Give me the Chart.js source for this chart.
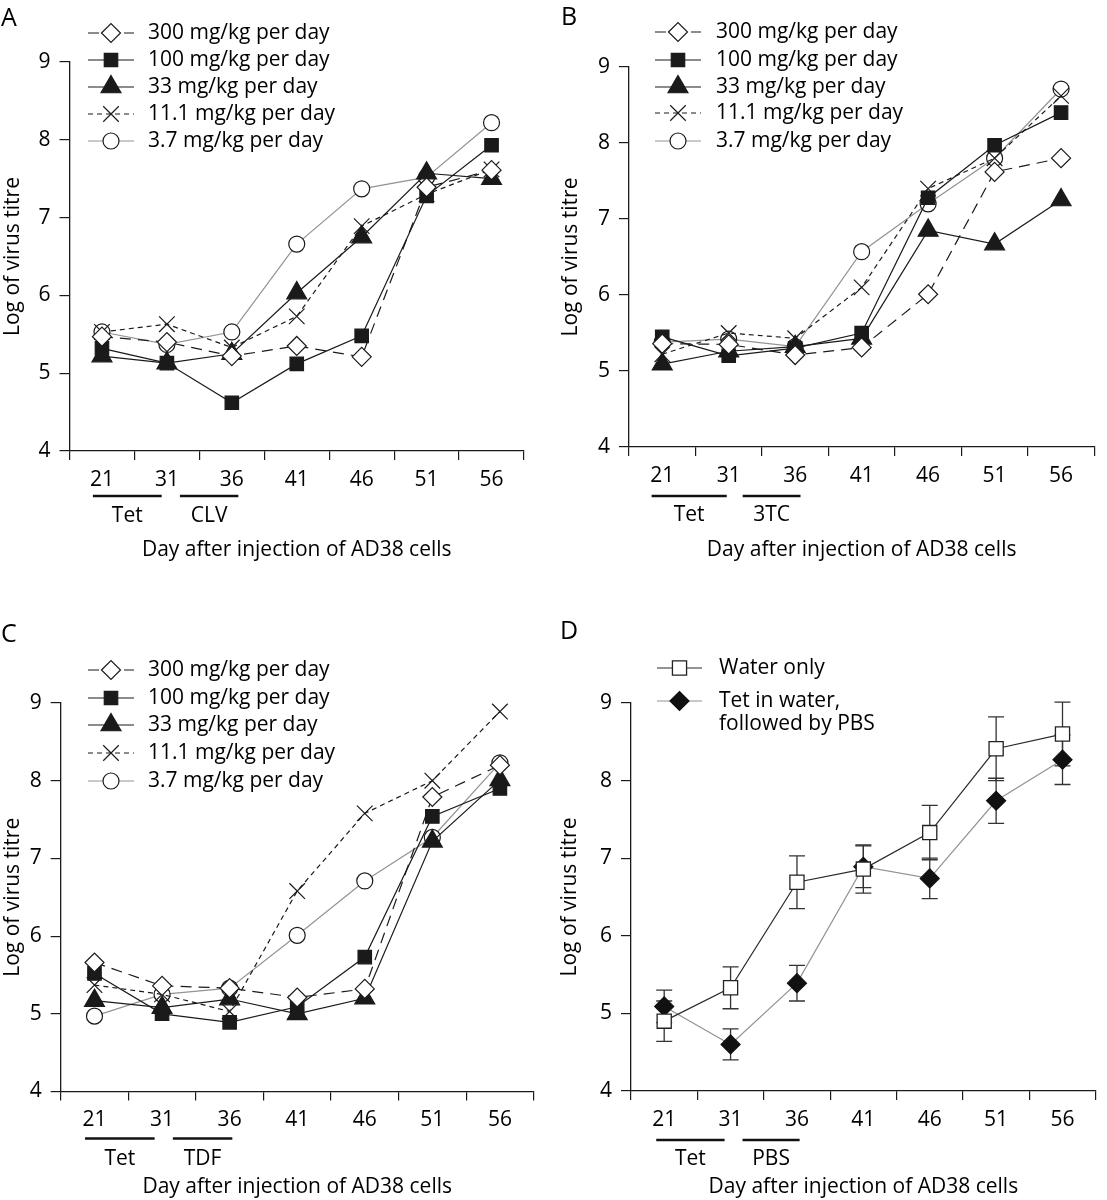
<!DOCTYPE html>
<html>
<head>
<meta charset="utf-8">
<title>Virus titre by dose</title>
<script src="https://cdn.jsdelivr.net/npm/chart.js@4.4.1/dist/chart.umd.min.js"></script>
<style>
  html, body { margin: 0; padding: 0; background: #fff; }
  #page { position: relative; width: 1107px; height: 1200px; font-family: "Open Sans", sans-serif; color: #000; }
  .panel { position: absolute; }
  .letter { position: absolute; font-size: 25px; line-height: 24px; }
</style>
</head>
<body>
<div id="page">
  <div class="panel" style="left:0;top:0"><canvas id="chartA" width="553" height="600"></canvas></div>
  <div class="panel" style="left:553px;top:0"><canvas id="chartB" width="554" height="600"></canvas></div>
  <div class="panel" style="left:0;top:610px"><canvas id="chartC" width="553" height="590"></canvas></div>
  <div class="panel" style="left:553px;top:610px"><canvas id="chartD" width="554" height="590"></canvas></div>
  <div class="letter" style="left:1px;top:4px">A</div>
  <div class="letter" style="left:561px;top:3px">B</div>
  <div class="letter" style="left:1px;top:620px">C</div>
  <div class="letter" style="left:560px;top:617px">D</div>
</div>
<script>
// x categories (day after injection)
const days = ["21", "31", "36", "41", "46", "51", "56"];
const doseNames = ["300 mg/kg per day", "100 mg/kg per day", "33 mg/kg per day", "11.1 mg/kg per day", "3.7 mg/kg per day"];
const yTicks = [4, 5, 6, 7, 8, 9];

// A - CLV
const clv300 = [5.47, 5.40, 5.22, 5.35, 5.21, 7.39, 7.61];
const clv100 = [5.32, 5.13, 4.62, 5.12, 5.48, 7.28, 7.93];
const clv33 = [5.22, 5.13, 5.25, 6.03, 6.75, 7.57, 7.50];
const clv11 = [5.53, 5.63, 5.33, 5.73, 6.89, 7.30, 7.62];
const clv3 = [5.53, 5.37, 5.53, 6.66, 7.37, 7.52, 8.22];

// B - 3TC
const tc300 = [5.36, 5.35, 5.21, 5.31, 6.01, 7.62, 7.80];
const tc100 = [5.45, 5.20, 5.30, 5.50, 7.28, 7.97, 8.40];
const tc33 = [5.09, 5.26, 5.32, 5.43, 6.85, 6.67, 7.25];
const tc11 = [5.22, 5.50, 5.43, 6.10, 7.40, 7.80, 8.62];
const tc3 = [5.38, 5.42, 5.32, 6.57, 7.20, 7.80, 8.71];

// C - TDF
const tdf300 = [5.66, 5.36, 5.33, 5.21, 5.32, 7.79, 8.20];
const tdf100 = [5.52, 5.00, 4.89, 5.09, 5.73, 7.54, 7.90];
const tdf33 = [5.17, 5.08, 5.19, 5.00, 5.20, 7.22, 8.01];
const tdf11 = [5.37, 5.25, 5.03, 6.58, 7.58, 8.00, 8.89];
const tdf3 = [4.97, 5.25, 5.33, 6.01, 6.71, 7.27, 8.23];

// D - controls, with error bars
const waterOnly = [4.90, 5.33, 6.69, 6.86, 7.33, 8.41, 8.60];
const waterOnlyErr = [0.26, 0.27, 0.34, 0.31, 0.35, 0.41, 0.41];
const tetPbs = [5.09, 4.60, 5.39, 6.89, 6.74, 7.74, 8.27];
const tetPbsErr = [0.21, 0.20, 0.23, 0.27, 0.26, 0.29, 0.32];

const ink = "#1a1a1a";
const grey = "#939393";
const textInk = "#000";
const FONT = "'Open Sans', sans-serif";

function doseSets(series) {
  const styles = [
    { borderColor: ink, borderDash: [11, 7], pointStyle: "rectRot", pointRadius: 9.5, pointBackgroundColor: "#fff" },
    { borderColor: ink, borderDash: [], pointStyle: "rect", pointRadius: 9.5, pointBackgroundColor: ink },
    { borderColor: ink, borderDash: [], pointStyle: "triangle", pointRadius: 11.5, pointBackgroundColor: ink },
    { borderColor: ink, borderDash: [5, 4], pointStyle: "crossRot", pointRadius: 11, pointBackgroundColor: ink },
    { borderColor: grey, borderDash: [], pointStyle: "circle", pointRadius: 8, pointBackgroundColor: "#fff" }
  ];
  return series.map((vals, i) => Object.assign({
    label: doseNames[i],
    data: vals,
    borderWidth: 1.2,
    pointBorderColor: ink,
    pointBorderWidth: 1.2,
    tension: 0,
    clip: false
  }, styles[i]));
}

// legend drawn as line + marker + text, like the printed figure
function legendPlugin(g, texts) {
  return {
    id: "sketchLegend",
    afterDraw(chart) {
      const ctx = chart.ctx;
      ctx.save();
      chart.data.datasets.forEach((ds, i) => {
        const y = g.rows[i];
        ctx.strokeStyle = ds.borderColor;
        ctx.lineWidth = ds.borderWidth;
        ctx.setLineDash(ds.borderDash || []);
        ctx.beginPath();
        ctx.moveTo(g.x0, y);
        ctx.lineTo(g.x1, y);
        ctx.stroke();
        ctx.setLineDash([]);
        ctx.fillStyle = ds.pointBackgroundColor;
        ctx.strokeStyle = ds.pointBorderColor;
        ctx.lineWidth = ds.pointBorderWidth;
        Chart.helpers.drawPoint(ctx, {
          pointStyle: ds.pointStyle, radius: ds.pointRadius, rotation: 0, borderWidth: ds.pointBorderWidth
        }, (g.x0 + g.x1) / 2, y);
        ctx.fillStyle = textInk;
        ctx.font = "21px " + FONT;
        ctx.textAlign = "left";
        ctx.textBaseline = "middle";
        const lines = texts[i];
        lines.forEach((t, k) => ctx.fillText(t, g.textX, y + k * g.lineGap));
      });
      ctx.restore();
    }
  };
}

// treatment periods under the x axis
function treatmentPlugin(spans, barOff, labelOff) {
  return {
    id: "treatmentBars",
    afterDraw(chart) {
      const { ctx, chartArea, scales: { x } } = chart;
      ctx.save();
      ctx.strokeStyle = "#111";
      ctx.fillStyle = textInk;
      ctx.lineWidth = 2.6;
      ctx.font = "21px " + FONT;
      ctx.textAlign = "center";
      ctx.textBaseline = "middle";
      spans.forEach((s) => {
        const a = x.getPixelForValue(s.from);
        const b = x.getPixelForValue(s.to);
        ctx.beginPath();
        ctx.moveTo(a, chartArea.bottom + barOff);
        ctx.lineTo(b, chartArea.bottom + barOff);
        ctx.stroke();
        ctx.fillText(s.label, (a + b) / 2, chartArea.bottom + labelOff);
      });
      ctx.restore();
    }
  };
}

function errorBarPlugin(errors) {
  return {
    id: "errorBars",
    beforeDatasetsDraw(chart) {
      const { ctx, scales: { x, y } } = chart;
      ctx.save();
      ctx.strokeStyle = "#333";
      ctx.lineWidth = 1.3;
      errors.forEach((errs, i) => {
        const vals = chart.data.datasets[i].data;
        errs.forEach((e, j) => {
          const px = x.getPixelForValue(j);
          const top = y.getPixelForValue(vals[j] + e);
          const bot = y.getPixelForValue(vals[j] - e);
          ctx.beginPath();
          ctx.moveTo(px, top); ctx.lineTo(px, bot);
          ctx.moveTo(px - 8, top); ctx.lineTo(px + 8, top);
          ctx.moveTo(px - 8, bot); ctx.lineTo(px + 8, bot);
          ctx.stroke();
        });
      });
      ctx.restore();
    }
  };
}

function makeOptions(g) {
  const tickFont = { family: FONT, size: 21 };
  return {
    responsive: false,
    animation: false,
    events: [],
    layout: { padding: { left: 0, top: g.top, right: g.right, bottom: 0 } },
    plugins: { legend: { display: false }, tooltip: { enabled: false } },
    scales: {
      x: {
        type: "category",
        offset: true,
        grid: { offset: true, drawOnChartArea: false, tickLength: 9, color: ink, lineWidth: 1.2 },
        border: { color: ink, width: 1.3 },
        ticks: { color: textInk, font: tickFont, padding: 7, maxRotation: 0, autoSkip: false },
        title: {
          display: true, text: "Day after injection of AD38 cells", color: textInk,
          font: tickFont, padding: { top: 0, bottom: g.xTitlePad }
        },
        afterFit: (s) => { s.height = g.xHeight; }
      },
      y: {
        min: 4,
        max: 9,
        afterBuildTicks: (s) => { s.ticks = yTicks.map((v) => ({ value: v })); },
        grid: { drawOnChartArea: false, tickLength: 10, color: ink, lineWidth: 1.2 },
        border: { color: ink, width: 1.3 },
        ticks: { color: textInk, font: tickFont, padding: 9 },
        title: {
          display: true, text: "Log of virus titre", color: textInk,
          font: tickFont, padding: { top: g.yTitlePad, bottom: 0 }
        },
        afterFit: (s) => { s.width = g.left; }
      }
    }
  };
}

const doseTexts = doseNames.map((n) => [n]);

function dosePanel(id, series, geo, legendGeo, spans, barOff, labelOff) {
  new Chart(document.getElementById(id), {
    type: "line",
    data: { labels: days, datasets: doseSets(series) },
    options: makeOptions(geo),
    plugins: [treatmentPlugin(spans, barOff, labelOff), legendPlugin(legendGeo, doseTexts)]
  });
}

dosePanel("chartA", [clv300, clv100, clv33, clv11, clv3],
  { left: 69.5, top: 62, right: 29, xHeight: 149, xTitlePad: 37.4, yTitlePad: 0 },
  { x0: 88, x1: 134, textX: 148, rows: [33, 60, 87, 114, 141], lineGap: 0 },
  [{ label: "Tet", from: -0.14, to: 0.92 }, { label: "CLV", from: 1.2, to: 2.1 }], 45, 65);

dosePanel("chartB", [tc300, tc100, tc33, tc11, tc3],
  { left: 76, top: 67, right: 5.3, xHeight: 153, xTitlePad: 37.4, yTitlePad: 5 },
  { x0: 102, x1: 148, textX: 163, rows: [32, 60, 87, 113, 141], lineGap: 0 },
  [{ label: "Tet", from: -0.16, to: 0.97 }, { label: "3TC", from: 1.21, to: 2.08 }], 49, 68);

dosePanel("chartC", [tdf300, tdf100, tdf33, tdf11, tdf3],
  { left: 60.7, top: 93, right: 19.3, xHeight: 108.5, xTitlePad: 0.4, yTitlePad: 0 },
  { x0: 88, x1: 134, textX: 148, rows: [60, 88, 115, 143, 171], lineGap: 0 },
  [{ label: "Tet", from: -0.14, to: 0.89 }, { label: "TDF", from: 1.16, to: 2.04 }], 47, 68);

// D - water only vs Tet then PBS
new Chart(document.getElementById("chartD"), {
  type: "line",
  data: {
    labels: days,
    datasets: [
      {
        label: "Water only", data: waterOnly, borderColor: "#2a2a2a", borderWidth: 1.2, borderDash: [],
        pointStyle: "rect", pointRadius: 10, pointBackgroundColor: "#fff", pointBorderColor: "#222",
        pointBorderWidth: 1.3, tension: 0, clip: false
      },
      {
        label: "Tet in water, followed by PBS", data: tetPbs, borderColor: grey, borderWidth: 1.2, borderDash: [],
        pointStyle: "rectRot", pointRadius: 9.5, pointBackgroundColor: "#111", pointBorderColor: "#111",
        pointBorderWidth: 1.2, tension: 0, clip: false
      }
    ]
  },
  options: makeOptions({ left: 78, top: 93, right: 5, xHeight: 109, xTitlePad: 0.4, yTitlePad: 4 }),
  plugins: [
    errorBarPlugin([waterOnlyErr, tetPbsErr]),
    treatmentPlugin([{ label: "Tet", from: -0.12, to: 0.91 }, { label: "PBS", from: 1.18, to: 2.04 }], 49, 68),
    legendPlugin({ x0: 104, x1: 149, textX: 166, rows: [58, 91], lineGap: 23 },
      [["Water only"], ["Tet in water,", "followed by PBS"]])
  ]
});
</script>
</body>
</html>
